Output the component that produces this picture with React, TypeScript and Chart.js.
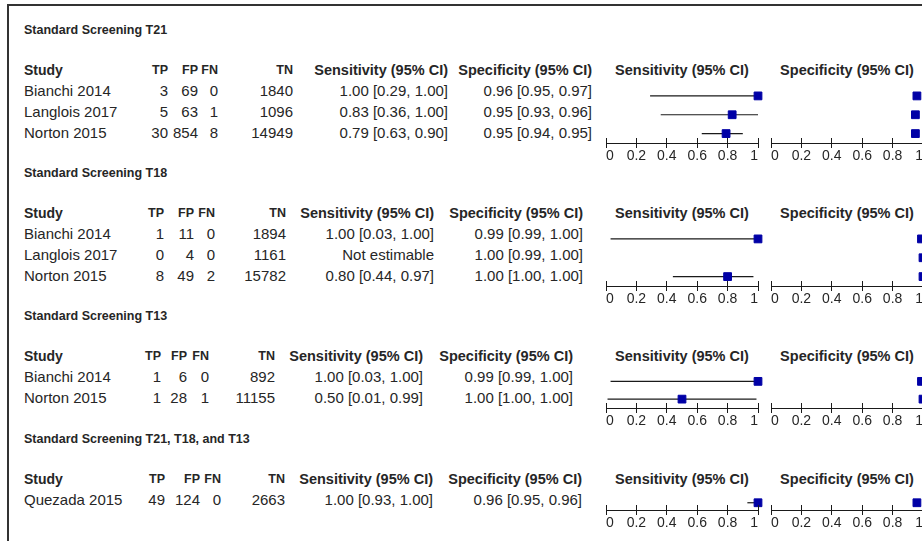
import React, { useEffect, useRef } from 'react';
import { Chart, registerables } from 'chart.js';

Chart.register(...registerables);

// ---------- DATA ----------
const sectionTitles = [
  'Standard Screening T21',
  'Standard Screening T18',
  'Standard Screening T13',
  'Standard Screening T21, T18, and T13',
];

const columnHeaders = ['Study', 'TP', 'FP', 'FN', 'TN', 'Sensitivity (95% CI)', 'Specificity (95% CI)'];
const forestHeaders = ['Sensitivity (95% CI)', 'Specificity (95% CI)'];
const axisTicks = [0, 0.2, 0.4, 0.6, 0.8, 1];

// T21
const t21Studies = ['Bianchi 2014', 'Langlois 2017', 'Norton 2015'];
const t21TP = [3, 5, 30];
const t21FP = [69, 63, 854];
const t21FN = [0, 1, 8];
const t21TN = [1840, 1096, 14949];
const t21Sens = [1.0, 0.83, 0.79];
const t21SensLo = [0.29, 0.36, 0.63];
const t21SensHi = [1.0, 1.0, 0.9];
const t21Spec = [0.96, 0.95, 0.95];
const t21SpecLo = [0.95, 0.93, 0.94];
const t21SpecHi = [0.97, 0.96, 0.95];

// T18
const t18Studies = ['Bianchi 2014', 'Langlois 2017', 'Norton 2015'];
const t18TP = [1, 0, 8];
const t18FP = [11, 4, 49];
const t18FN = [0, 0, 2];
const t18TN = [1894, 1161, 15782];
const t18Sens = [1.0, null, 0.8];
const t18SensLo = [0.03, null, 0.44];
const t18SensHi = [1.0, null, 0.97];
const t18Spec = [0.99, 1.0, 1.0];
const t18SpecLo = [0.99, 0.99, 1.0];
const t18SpecHi = [1.0, 1.0, 1.0];

// T13
const t13Studies = ['Bianchi 2014', 'Norton 2015'];
const t13TP = [1, 1];
const t13FP = [6, 28];
const t13FN = [0, 1];
const t13TN = [892, 11155];
const t13Sens = [1.0, 0.5];
const t13SensLo = [0.03, 0.01];
const t13SensHi = [1.0, 0.99];
const t13Spec = [0.99, 1.0];
const t13SpecLo = [0.99, 1.0];
const t13SpecHi = [1.0, 1.0];

// All three
const allStudies = ['Quezada 2015'];
const allTP = [49];
const allFP = [124];
const allFN = [0];
const allTN = [2663];
const allSens = [1.0];
const allSensLo = [0.93];
const allSensHi = [1.0];
const allSpec = [0.96];
const allSpecLo = [0.95];
const allSpecHi = [0.96];

type Sec = {
  title: string;
  studies: string[];
  tp: number[]; fp: number[]; fn: number[]; tn: number[];
  sens: (number | null)[]; sensLo: (number | null)[]; sensHi: (number | null)[];
  spec: (number | null)[]; specLo: (number | null)[]; specHi: (number | null)[];
};

const sections: Sec[] = [
  { title: sectionTitles[0], studies: t21Studies, tp: t21TP, fp: t21FP, fn: t21FN, tn: t21TN, sens: t21Sens, sensLo: t21SensLo, sensHi: t21SensHi, spec: t21Spec, specLo: t21SpecLo, specHi: t21SpecHi },
  { title: sectionTitles[1], studies: t18Studies, tp: t18TP, fp: t18FP, fn: t18FN, tn: t18TN, sens: t18Sens, sensLo: t18SensLo, sensHi: t18SensHi, spec: t18Spec, specLo: t18SpecLo, specHi: t18SpecHi },
  { title: sectionTitles[2], studies: t13Studies, tp: t13TP, fp: t13FP, fn: t13FN, tn: t13TN, sens: t13Sens, sensLo: t13SensLo, sensHi: t13SensHi, spec: t13Spec, specLo: t13SpecLo, specHi: t13SpecHi },
  { title: sectionTitles[3], studies: allStudies, tp: allTP, fp: allFP, fn: allFN, tn: allTN, sens: allSens, sensLo: allSensLo, sensHi: allSensHi, spec: allSpec, specLo: allSpecLo, specHi: allSpecHi },
];

// ---------- LAYOUT (positions / styles) ----------
const ROW = 21;
const FONT = '"Liberation Sans", Arial, Helvetica, sans-serif';
const TEXT = '#262626';
const NAVY = '#0000a6';
const LINE = '#1a1a1a';
const SENS_LEFT = 606;
const SPEC_LEFT = 771;
const PANEL_W = 152;
const PAD = 12;

const layouts = [
  { axisY: 143, tp: 168, fp: 198, fn: 218, tn: 293, sens: 448, spec: 592 },
  { axisY: 286, tp: 164, fp: 194, fn: 215, tn: 286, sens: 434, spec: 583 },
  { axisY: 408, tp: 161, fp: 187, fn: 209, tn: 275, sens: 423, spec: 573 },
  { axisY: 510, tp: 165, fp: 200, fn: 221, tn: 285, sens: 433, spec: 582 },
];

const fmtCI = (e: number | null, lo: number | null, hi: number | null) =>
  e == null || lo == null || hi == null
    ? 'Not estimable'
    : `${e.toFixed(2)} [${lo.toFixed(2)}, ${hi.toFixed(2)}]`;

function Txt(props: {
  x: number; y: number; text: string; align?: 'left' | 'right' | 'center';
  bold?: boolean; size?: number;
}) {
  const { x, y, text, align = 'left', bold = false, size = 15 } = props;
  const w = 400;
  const left = align === 'left' ? x : align === 'right' ? x - w : x - w / 2;
  return (
    <div
      style={{
        position: 'absolute',
        left,
        top: y - 10,
        width: w,
        height: 20,
        lineHeight: '20px',
        textAlign: align,
        fontFamily: FONT,
        fontSize: size,
        fontWeight: bold ? 700 : 400,
        color: TEXT,
        whiteSpace: 'nowrap',
      }}
    >
      {text}
    </div>
  );
}

const tickUpPlugin = {
  id: 'tickUp',
  afterDraw(chart: any) {
    const s = chart.scales.x;
    const ctx = chart.ctx;
    const y = chart.chartArea.bottom;
    ctx.save();
    ctx.strokeStyle = LINE;
    ctx.lineWidth = 1;
    ctx.beginPath();
    s.ticks.forEach((t: any) => {
      const x = Math.round(s.getPixelForValue(t.value) - 0.5) + 0.5;
      ctx.moveTo(x, y - 5);
      ctx.lineTo(x, y);
    });
    ctx.stroke();
    ctx.restore();
  },
};

function Forest(props: {
  left: number; axisY: number;
  est: (number | null)[]; lo: (number | null)[]; hi: (number | null)[];
}) {
  const { left, axisY, est, lo, hi } = props;
  const ref = useRef<HTMLCanvasElement>(null);
  const n = est.length;
  const width = PANEL_W + PAD * 2;
  const height = n * ROW + 24;
  const top = axisY - n * ROW;

  useEffect(() => {
    if (!ref.current) return;
    const ciSets: any[] = [];
    est.forEach((e, i) => {
      if (e == null || lo[i] == null || hi[i] == null) return;
      ciSets.push({
        data: [{ x: lo[i], y: i }, { x: hi[i], y: i }],
        showLine: true,
        borderColor: LINE,
        borderWidth: 1.2,
        pointRadius: 0,
        clip: false,
        order: 2,
      });
    });
    const pts: any[] = [];
    est.forEach((e, i) => {
      if (e != null) pts.push({ x: e, y: i });
    });
    const chart = new Chart(ref.current, {
      type: 'scatter',
      data: {
        datasets: [
          ...ciSets,
          {
            data: pts,
            pointStyle: 'rect',
            pointRadius: 5.5,
            backgroundColor: NAVY,
            borderColor: NAVY,
            borderWidth: 1,
            showLine: false,
            clip: false,
            order: 1,
          },
        ],
      },
      options: {
        responsive: false,
        devicePixelRatio: 1,
        animation: false,
        events: [],
        layout: { padding: { left: PAD, right: PAD, top: 0, bottom: 0 } },
        plugins: { legend: { display: false }, tooltip: { enabled: false } },
        scales: {
          y: { type: 'linear', display: false, min: -0.5, max: n - 0.5, reverse: true },
          x: {
            type: 'linear',
            position: 'bottom',
            min: 0,
            max: 1,
            border: { display: true, color: LINE, width: 1 },
            grid: { display: true, drawOnChartArea: false, drawTicks: true, tickLength: 5, color: LINE, lineWidth: 1 },
            ticks: {
              align: 'inner',
              padding: 0,
              color: TEXT,
              autoSkip: false,
              maxRotation: 0,
              font: { family: FONT, size: 14 },
              callback: (v: any) => String(v),
            },
            afterBuildTicks: (s: any) => {
              s.ticks = axisTicks.map((v) => ({ value: v }));
            },
            afterFit: (s: any) => {
              s.height = 24;
            },
          },
        },
      } as any,
      plugins: [tickUpPlugin],
    });
    return () => chart.destroy();
  }, []);

  return (
    <canvas
      ref={ref}
      width={width}
      height={height}
      style={{ position: 'absolute', left: left - PAD, top, width, height }}
    />
  );
}

export default function App() {
  return (
    <div
      style={{
        position: 'fixed',
        left: 0,
        top: 0,
        width: 922,
        height: 541,
        overflow: 'hidden',
        background: '#fff',
      }}
    >
      <div style={{ position: 'absolute', left: 7, top: 4, width: 1000, height: 2, background: '#333' }} />
      <div style={{ position: 'absolute', left: 7, top: 4, width: 2, height: 600, background: '#333' }} />
      {sections.map((sec, si) => {
        const L = layouts[si];
        const n = sec.studies.length;
        const rowsTop = L.axisY - n * ROW;
        const headerY = rowsTop - ROW / 2;
        const titleY = headerY - 40;
        const cols = [L.tp, L.fp, L.fn, L.tn];
        return (
          <React.Fragment key={si}>
            <Txt x={24} y={titleY} text={sec.title} bold size={12.5} />
            <Txt x={24} y={headerY} text={columnHeaders[0]} bold size={14} />
            {cols.map((cx, ci) => (
              <Txt key={ci} x={cx} y={headerY} text={columnHeaders[ci + 1]} bold size={12.5} align="right" />
            ))}
            <Txt x={L.sens} y={headerY} text={columnHeaders[5]} bold size={14.5} align="right" />
            <Txt x={L.spec} y={headerY} text={columnHeaders[6]} bold size={14.5} align="right" />
            <Txt x={SENS_LEFT + PANEL_W / 2} y={headerY} text={forestHeaders[0]} bold size={14.5} align="center" />
            <Txt x={SPEC_LEFT + PANEL_W / 2} y={headerY} text={forestHeaders[1]} bold size={14.5} align="center" />
            {sec.studies.map((st, i) => {
              const y = rowsTop + (i + 0.5) * ROW;
              const vals = [sec.tp[i], sec.fp[i], sec.fn[i], sec.tn[i]];
              return (
                <React.Fragment key={i}>
                  <Txt x={24} y={y} text={st} />
                  {vals.map((v, ci) => (
                    <Txt key={ci} x={cols[ci]} y={y} text={String(v)} align="right" />
                  ))}
                  <Txt x={L.sens} y={y} text={fmtCI(sec.sens[i], sec.sensLo[i], sec.sensHi[i])} align="right" />
                  <Txt x={L.spec} y={y} text={fmtCI(sec.spec[i], sec.specLo[i], sec.specHi[i])} align="right" />
                </React.Fragment>
              );
            })}
            <Forest left={SENS_LEFT} axisY={L.axisY} est={sec.sens} lo={sec.sensLo} hi={sec.sensHi} />
            <Forest left={SPEC_LEFT} axisY={L.axisY} est={sec.spec} lo={sec.specLo} hi={sec.specHi} />
          </React.Fragment>
        );
      })}
    </div>
  );
}
